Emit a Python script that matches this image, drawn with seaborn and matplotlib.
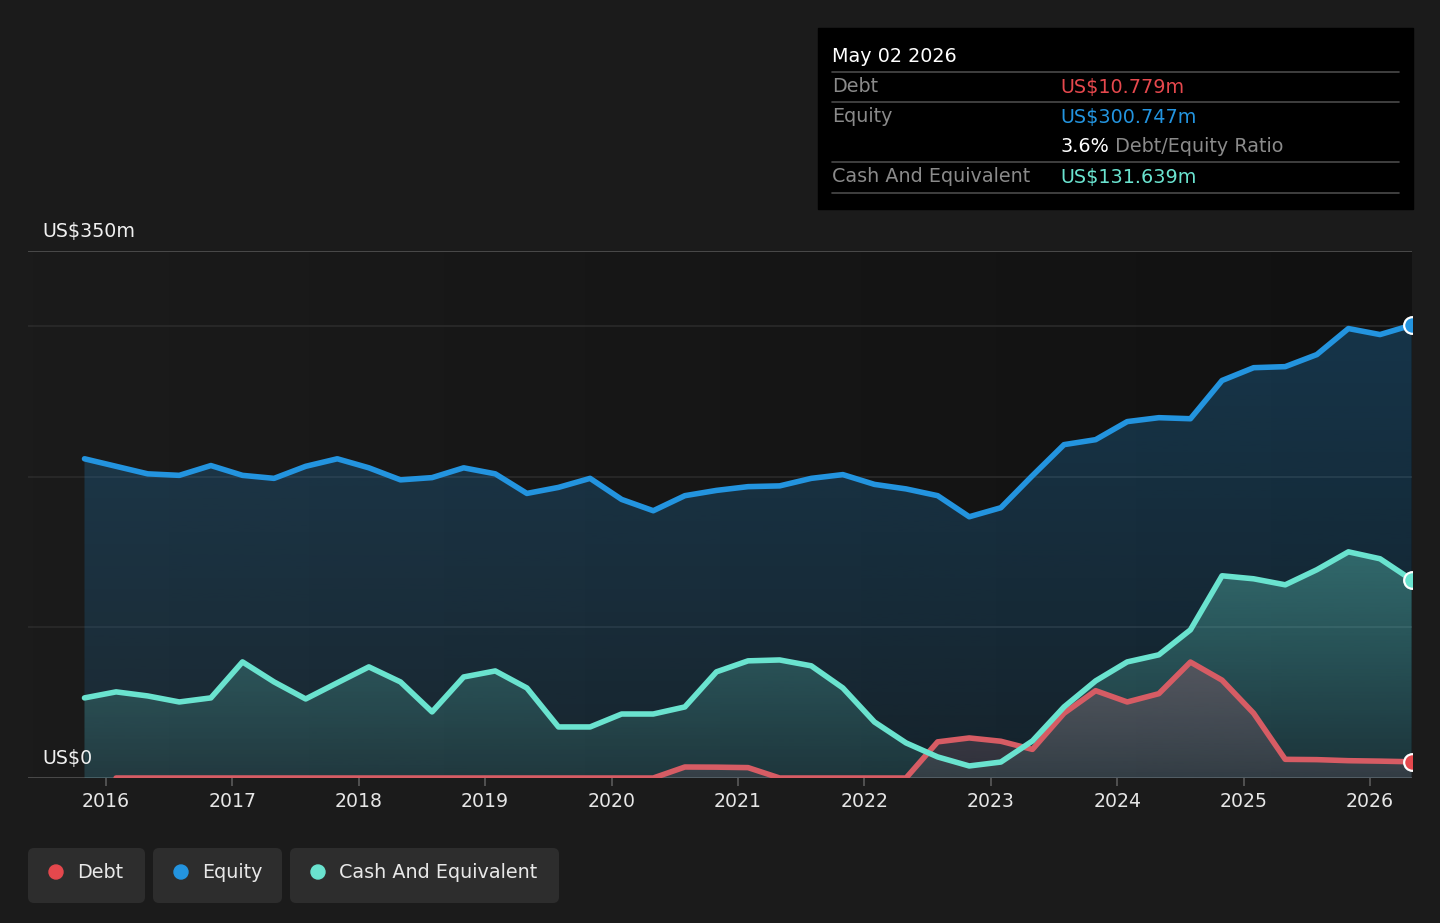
import numpy as np
import pandas as pd
import matplotlib
matplotlib.use("Agg")
import matplotlib.pyplot as plt
from matplotlib.patches import FancyBboxPatch, Circle, Rectangle
import seaborn as sns

# ---------------- data (US$ millions, fractional years) ----------------
dates = [2015.83, 2016.08, 2016.33, 2016.58, 2016.83, 2017.08, 2017.33, 2017.58,
         2017.83, 2018.08, 2018.33, 2018.58, 2018.83, 2019.08, 2019.33, 2019.58,
         2019.83, 2020.08, 2020.33, 2020.58, 2020.83, 2021.08, 2021.33, 2021.58,
         2021.83, 2022.08, 2022.33, 2022.58, 2022.83, 2023.08, 2023.33, 2023.58,
         2023.83, 2024.08, 2024.33, 2024.58, 2024.83, 2025.08, 2025.33, 2025.58,
         2025.83, 2026.08, 2026.33]
equity = [212, 207, 202, 201, 207.5, 201, 199, 207, 212, 206, 198, 199.5, 206, 202,
          189, 193, 199, 185, 177.5, 187.5, 191, 193.5, 194, 199, 201.5, 195, 192,
          187.5, 173.5, 179.5, 200.8, 221.4, 224.7, 236.7, 239.3, 238.6, 264, 272.5,
          273.2, 281.2, 298.5, 294.5, 300.747]
cash = [53.2, 57.2, 54.5, 50.5, 53.2, 77.1, 63.8, 52.5, 63.2, 73.8, 63.8, 43.9, 67.1,
        71.1, 59.8, 33.9, 33.9, 42.5, 42.5, 47.2, 70.5, 77.8, 78.4, 74.5, 59.8, 37.2,
        23.3, 14, 8, 10.6, 24.6, 47.2, 64.5, 77.1, 81.8, 98.4, 134.3, 132.3, 128.3,
        138.3, 150.2, 145.6, 131.639]
debt = [np.nan, 0, 0, 0, 0, 0, 0, 0, 0, 0, 0, 0, 0, 0, 0, 0, 0, 0, 0, 7.3, 7.2, 6.9,
        0, 0, 0, 0, 0, 24, 26.6, 24.4, 19, 43, 58, 50.5, 56, 77, 65, 43, 12.4, 12.2,
        11.5, 11.2, 10.779]
year_ticks = [2016, 2017, 2018, 2019, 2020, 2021, 2022, 2023, 2024, 2025, 2026]
y_labels = {350: "US$350m", 0: "US$0"}

tooltip_date = "May 02 2026"
tooltip_rows = [("Debt", "US$10.779m"), ("Equity", "US$300.747m"),
                ("Cash And Equivalent", "US$131.639m")]
ratio_text = "3.6%"
legend_names = ["Debt", "Equity", "Cash And Equivalent"]

df = pd.DataFrame({"date": dates, "Equity": equity, "Cash": cash, "Debt": debt})

# ---------------- style ----------------
BG = "#1b1b1b"
C_DEBT = "#e5484d"
C_DEBT_LINE = "#d65c64"
C_EQ = "#2394df"
C_CASH = "#6ae3cf"

sns.set_theme(style="dark")
plt.rcParams["font.family"] = ["DejaVu Sans"]

fig = plt.figure(figsize=(14.4, 9.23), dpi=100, facecolor=BG)
ax = fig.add_axes([28 / 1440, 1 - 778 / 923, 1384 / 1440, 527 / 923])
ax.set_facecolor(BG)
XMIN, XMAX = 2015.383, 2026.333
YMAX = 350

# horizontal background gradient of plot area
grad = np.linspace(0, 1, 256)[None, :, None]
c0 = np.array([27, 27, 27]) / 255
c1 = np.array([17, 17, 17]) / 255
bgimg = c0 + (c1 - c0) * grad
ax.imshow(bgimg, extent=[XMIN, XMAX, 0, YMAX], aspect="auto", zorder=0, origin="lower")

# gridlines
for v, col in [(100, "#2c2c2c"), (200, "#2c2c2c"), (300, "#2c2c2c"), (350, "#4a4a4a"), (0, "#4a4a4a")]:
    ax.axhline(v, color=col, lw=1.4 if v in (0, 350) else 1.1, zorder=0.5)


def grad_fill(x, y, color, a_top, a_bot, ytop, z):
    x = np.asarray(x, float)
    y = np.asarray(y, float)
    m = ~np.isnan(y)
    x, y = x[m], y[m]
    poly = ax.fill_between(x, 0, y, color="none", lw=0)
    path = poly.get_paths()[0]
    t = np.linspace(0, 1, 256)[:, None]
    rgb = np.array(matplotlib.colors.to_rgb(color))
    img = np.zeros((256, 1, 4))
    img[..., :3] = rgb
    img[..., 3] = a_bot + (a_top - a_bot) * t
    im = ax.imshow(img, extent=[x.min(), x.max(), 0, ytop], origin="lower",
                   aspect="auto", zorder=z)
    im.set_clip_path(path, transform=ax.transData)
    poly.remove()


grad_fill(dates, equity, C_EQ, 0.30, 0.12, 350, 1)
grad_fill(dates, cash, C_CASH, 0.34, 0.10, 150, 2)
grad_fill(dates, debt, "#7a5a66", 0.55, 0.25, 80, 3)

line_kw = dict(lw=4, solid_capstyle="round", solid_joinstyle="round")
sns.lineplot(data=df, x="date", y="Debt", ax=ax, color=C_DEBT_LINE, zorder=4, **line_kw)
sns.lineplot(data=df, x="date", y="Cash", ax=ax, color=C_CASH, zorder=5, **line_kw)
sns.lineplot(data=df, x="date", y="Equity", ax=ax, color=C_EQ, zorder=6, **line_kw)

# end markers
for col, c in [("Debt", C_DEBT), ("Cash", C_CASH), ("Equity", C_EQ)]:
    ax.plot(df["date"].iloc[-1], df[col].iloc[-1], "o", ms=12, mfc=c, mec="white",
            mew=1.6, zorder=7)

ax.set_xlim(XMIN, XMAX)
ax.set_ylim(0, YMAX)
ax.set_xlabel("")
ax.set_ylabel("")
for s in ax.spines.values():
    s.set_visible(False)
ax.set_yticks([])
ax.set_xticks(year_ticks)
ax.set_xticklabels([str(y) for y in year_ticks])
ax.tick_params(axis="x", colors="#555555", labelcolor="#e6e6e6", labelsize=13.6,
               length=6, width=1.3, pad=4, bottom=True, direction="out")
ax.grid(False)

for v, lab in y_labels.items():
    ax.annotate(lab, xy=(XMIN, v), xytext=(14, 10), textcoords="offset pixels",
                color="#f0f0f0", fontsize=13.7, va="bottom", ha="left", zorder=8)

# ---------------- overlay: tooltip + legend ----------------
ov = fig.add_axes([0, 0, 1, 1], zorder=3)
ov.set_xlim(0, 1440)
ov.set_ylim(923, 0)
ov.axis("off")
ov.patch.set_alpha(0)

ov.add_patch(Rectangle((818, 28), 595, 181, color="black", zorder=1))
FS = 13.8
ov.text(832, 56, tooltip_date, color="white", fontsize=FS, va="center", ha="left")
for yy in (72, 102, 162, 193):
    ov.plot([832, 1399], [yy, yy], color="#4a4a4a", lw=1.2)
row_cols = [C_DEBT, C_EQ, C_CASH]
row_y = [87, 117, 177]
for (lab, val), c, yy in zip(tooltip_rows, row_cols, row_y):
    ov.text(832, yy, lab, color="#8a8a8a", fontsize=FS, va="center", ha="left")
    ov.text(1060, yy, val, color=c, fontsize=FS, va="center", ha="left")
t1 = ov.text(1060, 147, ratio_text, color="white", fontsize=FS, va="center", ha="left")
ov.annotate(" Debt/Equity Ratio", xy=(1, 0.5), xycoords=t1, color="#8a8a8a",
            fontsize=FS, va="center", ha="left")

boxes = [(28, 145), (153, 282), (290, 559)]
for (x0, x1), name, c in zip(boxes, legend_names, [C_DEBT, C_EQ, C_CASH]):
    ov.add_patch(FancyBboxPatch((x0, 848), x1 - x0, 55,
                                boxstyle="round,pad=0,rounding_size=6",
                                fc="#2d2d2d", ec="none"))
    ov.add_patch(Circle((x0 + 28, 872), 7, color=c))
    ov.text(x0 + 49, 873, name, color="#e8e8e8", fontsize=FS, va="center", ha="left")

fig.savefig("out.png", dpi=100, facecolor=BG)
